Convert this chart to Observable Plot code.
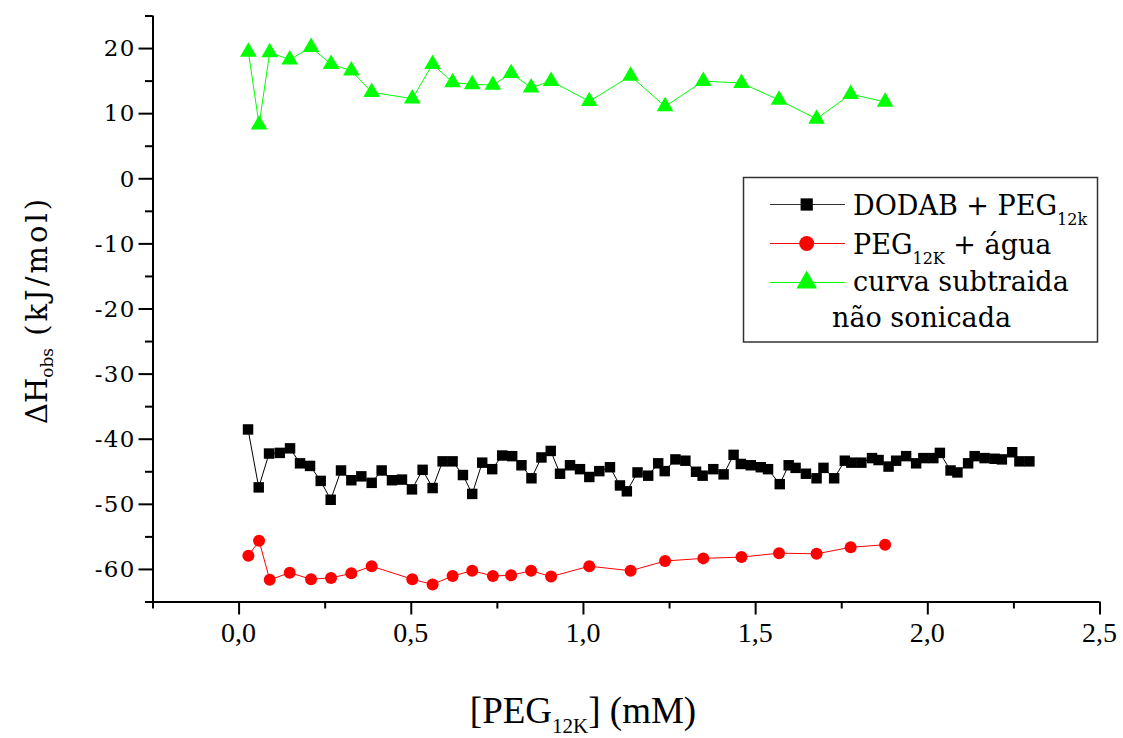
<!DOCTYPE html>
<html>
<head>
<meta charset="utf-8">
<script src="https://cdn.jsdelivr.net/npm/d3@7"></script>
<script src="https://cdn.jsdelivr.net/npm/@observablehq/plot@0.6"></script>
<style>
  html, body { margin: 0; padding: 0; background: #ffffff; }
  #chart svg { display: block; }
</style>
</head>
<body>
<div id="chart"></div>
<script>
// ---------- data ----------
const seriesNames = ["DODAB + PEG12k", "PEG12K + água", "curva subtraida não sonicada"];

// DODAB + PEG12k (black squares)
const dodabX = [0.026, 0.057, 0.087, 0.118, 0.148, 0.177, 0.206, 0.237, 0.266, 0.296,
  0.326, 0.355, 0.385, 0.414, 0.444, 0.473, 0.502, 0.533, 0.562, 0.591,
  0.620, 0.650, 0.677, 0.706, 0.735, 0.764, 0.793, 0.820, 0.849, 0.878,
  0.905, 0.932, 0.961, 0.990, 1.017, 1.046, 1.077, 1.106, 1.126, 1.157,
  1.188, 1.217, 1.236, 1.267, 1.296, 1.327, 1.346, 1.377, 1.407, 1.436,
  1.457, 1.486, 1.515, 1.536, 1.570, 1.596, 1.616, 1.646, 1.677, 1.697,
  1.728, 1.759, 1.778, 1.807, 1.838, 1.857, 1.886, 1.908, 1.937, 1.966,
  1.987, 2.016, 2.035, 2.066, 2.086, 2.117, 2.136, 2.165, 2.194, 2.215,
  2.245, 2.266, 2.295];
const dodabY = [-38.5, -47.4, -42.2, -42.1, -41.4, -43.7, -44.1, -46.4, -49.3, -44.8,
  -46.3, -45.7, -46.7, -44.8, -46.3, -46.2, -47.7, -44.7, -47.5, -43.4,
  -43.4, -45.5, -48.4, -43.6, -44.6, -42.5, -42.6, -44.0, -46.0, -42.8,
  -41.8, -45.3, -44.0, -44.6, -45.8, -44.9, -44.3, -47.1, -48.0, -45.1,
  -45.6, -43.7, -44.9, -43.1, -43.3, -45.0, -45.6, -44.6, -45.4, -42.4,
  -43.8, -44.0, -44.3, -44.6, -46.9, -44.0, -44.4, -45.3, -46.0, -44.4,
  -46.0, -43.3, -43.6, -43.6, -42.9, -43.2, -44.2, -43.3, -42.6, -43.7,
  -42.9, -42.9, -42.1, -44.8, -45.1, -43.7, -42.6, -42.9, -43.0, -43.1,
  -42.0, -43.4, -43.4];

// PEG12K + água (red circles) and subtracted curve (green triangles) share x
const pegX = [0.027, 0.058, 0.089, 0.147, 0.209, 0.267, 0.326, 0.385, 0.503, 0.562,
  0.620, 0.677, 0.737, 0.790, 0.848, 0.906, 1.017, 1.137, 1.237, 1.348,
  1.459, 1.568, 1.677, 1.776, 1.876];
const aguaY = [-57.9, -55.6, -61.6, -60.5, -61.5, -61.3, -60.6, -59.5, -61.5, -62.3,
  -61.0, -60.2, -61.0, -60.9, -60.2, -61.1, -59.5, -60.2, -58.7, -58.3,
  -58.1, -57.5, -57.6, -56.6, -56.2];
const subtraidaY = [19.5, 8.3, 19.4, 18.3, 20.2, 17.6, 16.6, 13.3, 12.3, 17.6,
  14.8, 14.5, 14.4, 16.2, 14.0, 15.0, 11.9, 15.8, 11.1, 15.0,
  14.7, 12.1, 9.2, 13.0, 11.8];

// ticks
const xMajor = [0, 0.5, 1.0, 1.5, 2.0, 2.5];
const xMinor = [-0.25, 0.25, 0.75, 1.25, 1.75, 2.25];
const yMajor = [-60, -50, -40, -30, -20, -10, 0, 10, 20];
const yMinor = [-65, -55, -45, -35, -25, -15, -5, 5, 15, 25];

// ---------- build tables ----------
const dodab = dodabX.map((x, i) => ({x, y: dodabY[i]}));
const agua = pegX.map((x, i) => ({x, y: aguaY[i]}));
const subtraida = pegX.map((x, i) => ({x, y: subtraidaY[i]}));

const BLACK = "#000000", RED = "#ff0000", GREEN = "#00ff00";
const serif = "DejaVu Serif";
const times = "Liberation Serif";

const chart = Plot.plot({
  width: 1123,
  height: 738,
  marginTop: 15.5,
  marginLeft: 152.5,
  marginRight: 23.5,
  marginBottom: 136.5,
  x: {domain: [-0.25, 2.5]},
  y: {domain: [-65, 25]},
  style: {background: "#ffffff", color: "#000000", overflow: "visible"},
  marks: [
    // axis ticks (labels drawn separately below)
    Plot.axisY({ticks: yMajor, tickSize: 14, strokeWidth: 2, fill: "none", label: null}),
    Plot.axisY({ticks: yMinor, tickSize: 7.5, strokeWidth: 2, fill: "none", label: null}),
    Plot.axisX({ticks: xMajor, tickSize: 13, strokeWidth: 2, fill: "none", label: null}),
    Plot.axisX({ticks: xMinor, tickSize: 7, strokeWidth: 2, fill: "none", label: null}),
    // axis lines
    Plot.ruleX([-0.25], {stroke: BLACK, strokeWidth: 2}),
    Plot.ruleY([-65], {stroke: BLACK, strokeWidth: 2}),
    // series lines
    Plot.line(subtraida, {x: "x", y: "y", stroke: GREEN, strokeWidth: 1}),
    Plot.line(agua, {x: "x", y: "y", stroke: RED, strokeWidth: 1}),
    Plot.line(dodab, {x: "x", y: "y", stroke: BLACK, strokeWidth: 1}),
    // markers
    Plot.dot(subtraida, {x: "x", y: "y", symbol: "triangle", r: 6.2, fill: GREEN, stroke: "none"}),
    Plot.dot(agua, {x: "x", y: "y", symbol: "circle", r: 6, fill: RED, stroke: "none"}),
    Plot.dot(dodab, {x: "x", y: "y", symbol: "square", r: 5.9, fill: BLACK, stroke: "none"})
  ]
});

document.getElementById("chart").appendChild(chart);

const svg = d3.select(chart);

// ---------- tick labels, positioned with the plot's own scales ----------
const xs = chart.scale("x"), ys = chart.scale("y");
const xPos = d3.scaleLinear(xs.domain, xs.range);
const yPos = d3.scaleLinear(ys.domain, ys.range);
const left = xs.range[0], bottom = ys.range[0];

svg.append("g").attr("text-anchor", "end")
  .attr("font-family", serif).attr("font-size", 23).attr("fill", BLACK)
  .selectAll("text").data(yMajor).join("text")
  .attr("x", left - 17).attr("y", d => yPos(d)).attr("dy", "0.36em")
  .attr("letter-spacing", 1.2)
  .text(d => String(d));

svg.append("g").attr("text-anchor", "middle")
  .attr("font-family", times).attr("font-size", 28).attr("fill", BLACK)
  .selectAll("text").data(xMajor).join("text")
  .attr("x", d => xPos(d)).attr("y", bottom + 40)
  .text(d => d.toFixed(1).replace(".", ","));

// ---------- axis titles ----------
const xt = svg.append("text")
  .attr("x", 583).attr("y", 723)
  .attr("text-anchor", "middle")
  .attr("font-family", times).attr("font-size", 37).attr("fill", BLACK);
xt.append("tspan").text("[PEG");
xt.append("tspan").attr("font-size", 21).attr("dy", 10).text("12K");
xt.append("tspan").attr("dy", -10).text("] (mM)");

const yt = svg.append("text")
  .attr("transform", "translate(47,310) rotate(-90)")
  .attr("text-anchor", "middle")
  .attr("font-family", serif).attr("font-size", 29).attr("fill", BLACK);
yt.append("tspan").text("ΔH");
yt.append("tspan").attr("font-size", 17).attr("dy", 6).text("obs");
yt.append("tspan").attr("dy", -6).attr("letter-spacing", 3).text(" (kJ/mol)");

// ---------- legend ----------
const lg = svg.append("g").attr("text-anchor", "start");
lg.append("rect")
  .attr("x", 743.5).attr("y", 177.5).attr("width", 354).attr("height", 164.5)
  .attr("fill", "#ffffff").attr("stroke", "#333333").attr("stroke-width", 1.5);

const rows = [
  {y: 204.5, color: "#333333", fill: BLACK, symbol: d3.symbolSquare, size: 150},
  {y: 243.5, color: RED, fill: RED, symbol: d3.symbolCircle, size: 175},
  {y: 282.5, color: GREEN, fill: GREEN, symbol: d3.symbolTriangle, size: 185}
];
rows.forEach(r => {
  lg.append("line").attr("x1", 770).attr("x2", 845).attr("y1", r.y).attr("y2", r.y)
    .attr("stroke", r.color).attr("stroke-width", 1);
  lg.append("path").attr("transform", `translate(806.7,${r.y})`)
    .attr("d", d3.symbol(r.symbol, r.size)()).attr("fill", r.fill);
});

const t1 = lg.append("text").attr("x", 853).attr("y", 215)
  .attr("font-family", serif).attr("font-size", 27).attr("fill", BLACK);
t1.append("tspan").text("DODAB + PEG");
t1.append("tspan").attr("font-size", 16).attr("dy", 10).text("12k");

const t2 = lg.append("text").attr("x", 853).attr("y", 253.5)
  .attr("font-family", serif).attr("font-size", 27).attr("fill", BLACK);
t2.append("tspan").text("PEG");
t2.append("tspan").attr("font-size", 16).attr("dy", 10).text("12K");
t2.append("tspan").attr("dy", -10).text(" + água");

lg.append("text").attr("x", 853).attr("y", 291)
  .attr("font-family", serif).attr("font-size", 27).attr("fill", BLACK)
  .text("curva subtraida");
lg.append("text").attr("x", 832).attr("y", 327)
  .attr("font-family", serif).attr("font-size", 27).attr("fill", BLACK)
  .text("não sonicada");
</script>
</body>
</html>
